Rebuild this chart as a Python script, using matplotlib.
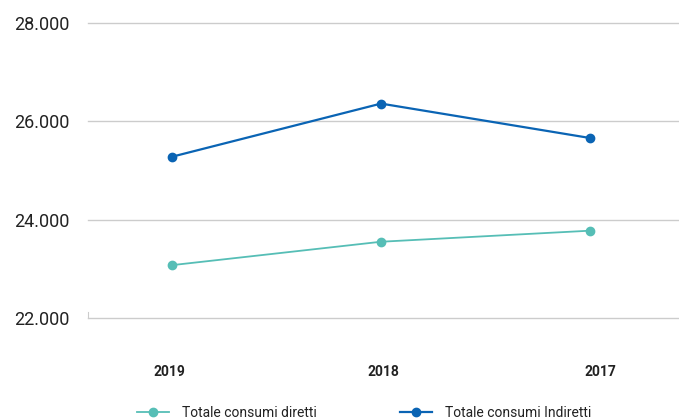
import matplotlib
matplotlib.use("Agg")
import matplotlib.pyplot as plt
from matplotlib.ticker import FuncFormatter

years = ["2019", "2018", "2017"]
diretti = [23075, 23551, 23776]
indiretti = [25280, 26361, 25661]
y_ticks = [22000, 24000, 26000, 28000]

teal = "#56beb6"
blue = "#0a64b4"
grid_col = "#cccccc"

plt.rcParams["font.family"] = ["Roboto", "DejaVu Sans"]

fig = plt.figure(figsize=(6.79, 4.19), dpi=100)
ax = fig.add_axes([88 / 679, 101 / 419, 591 / 679, 295 / 419])

x = list(range(len(years)))
ax.plot(x, diretti, color=teal, lw=1.3, marker="o", ms=6, label="Totale consumi diretti", zorder=3)
ax.plot(x, indiretti, color=blue, lw=1.6, marker="o", ms=6, label="Totale consumi Indiretti", zorder=3)

ax.set_ylim(22000, 28000)
ax.set_xlim(-0.402, 2.426)
ax.set_yticks(y_ticks)
ax.yaxis.set_major_formatter(FuncFormatter(lambda v, p: f"{int(v):,}".replace(",", ".")))
ax.grid(axis="y", color=grid_col, lw=1)
for gl in ax.yaxis.get_gridlines():
    gl.set_clip_on(False)
ax.set_axisbelow(True)

for side in ["top", "right", "bottom"]:
    ax.spines[side].set_visible(False)
ax.spines["left"].set_color(grid_col)
ax.spines["left"].set_bounds(22000, 22120)

ax.tick_params(axis="y", length=0, pad=13, labelsize=13, labelcolor="#222222")

# year labels sit slightly wider apart than the points
label_pos = [-0.014, 1.014, 2.048]
ax.set_xticks(label_pos)
ax.set_xticklabels(years, fontsize=10, fontweight="bold", color="#222222")
ax.tick_params(axis="x", length=0, pad=34)

fig.legend(loc="center left", bbox_to_anchor=(130 / 679, 6 / 419), ncol=2, frameon=False,
           fontsize=10, handlelength=2.3, handletextpad=0.95, columnspacing=6.0,
           borderpad=0, labelcolor="#222222")

fig.savefig("out.png", dpi=100)
